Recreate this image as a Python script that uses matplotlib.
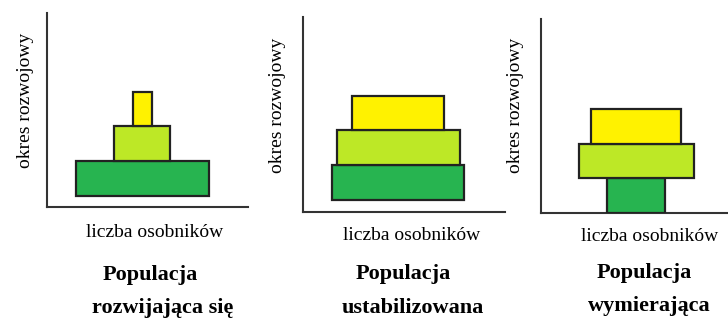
import matplotlib.pyplot as plt

# szerokosc poziomow piramidy (od dolu: mlode, dorosle, stare)
levels = ["mlode", "dorosle", "stare"]
widths_rozwijajaca = [133, 56, 19]
widths_ustabilizowana = [132, 123, 92]
widths_wymierajaca = [58, 115, 90]
titles = ["Populacja\nrozwijająca się", "Populacja\nustabilizowana", "Populacja\nwymierająca"]
xlabel = "liczba osobników"
ylabel = "okres rozwojowy"

colors = ["#27b450", "#bde826", "#fff200"]

W, H = 728, 318
fig = plt.figure(figsize=(W / 100, H / 100), dpi=100)
plt.rcParams["font.family"] = ["Liberation Serif", "DejaVu Serif"]

# axes boxes in image pixels: left, top, right, bottom
boxes = [(47, 13, 248, 207), (303, 17, 505, 212), (541, 19, 728, 213)]
base = [11.5, 12.5, 0]
level_h = 34.6
center = 95
ylab_pos = [(26, 100), (278, 105), (516, 105)]
xlab_pos = [(155, 237), (412, 240), (650, 241)]
title_pos = [((150, 280), (163, 313)), ((403, 279), (413, 313)), ((644, 278), (649, 311))]

all_widths = [widths_rozwijajaca, widths_ustabilizowana, widths_wymierajaca]

for k, (widths, box) in enumerate(zip(all_widths, boxes)):
    l, t, r, b = box
    ax = fig.add_axes([l / W, (H - b) / H, (r - l) / W, (b - t) / H])
    ax.set_xlim(0, r - l)
    ax.set_ylim(0, b - t)
    for i, w in enumerate(widths):
        ax.barh(base[k] + i * level_h + level_h / 2, w, height=level_h,
                left=center - w / 2, color=colors[i], edgecolor="#222222",
                linewidth=1.6, zorder=3)
    for s in ["top", "right"]:
        ax.spines[s].set_visible(False)
    for s in ["left", "bottom"]:
        ax.spines[s].set_linewidth(1.5)
        ax.spines[s].set_color("#333333")
    ax.set_xticks([])
    ax.set_yticks([])
    ax.patch.set_alpha(0)

    x, y = ylab_pos[k]
    fig.text(x / W, (H - y) / H, ylabel, rotation=90, ha="center", va="center", fontsize=14)
    x, y = xlab_pos[k]
    fig.text(x / W, (H - y) / H, xlabel, ha="center", va="baseline", fontsize=14)
    line1, line2 = titles[k].split("\n")
    (x1, y1), (x2, y2) = title_pos[k]
    fig.text(x1 / W, (H - y1) / H, line1, ha="center", va="baseline", fontsize=16, fontweight="bold")
    fig.text(x2 / W, (H - y2) / H, line2, ha="center", va="baseline", fontsize=16, fontweight="bold")

fig.savefig("out.png", dpi=100)
